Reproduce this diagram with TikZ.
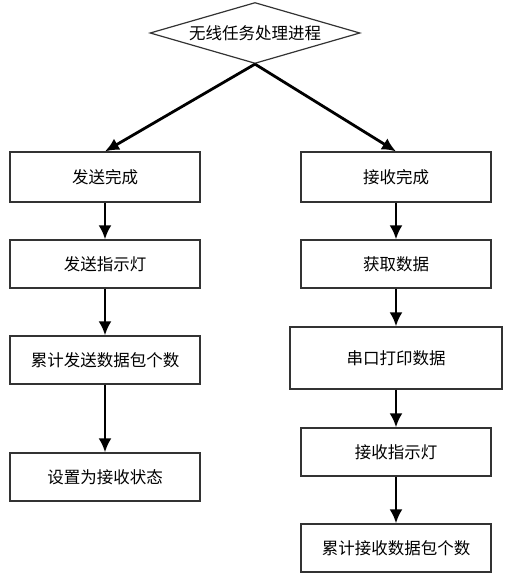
\documentclass[tikz,border=0pt]{standalone}
\usepackage{fontspec}
\newfontfamily\cjk{Noto Sans CJK SC}
\usetikzlibrary{shapes.geometric,arrows.meta}
\tikzset{
  box/.style={draw=black!80,line width=1.2pt,minimum width=190pt,minimum height=48pt,font=\cjk\fontsize{16.5}{19}\selectfont},
  flow/.style={-{Latex[length=14pt,width=13pt]},line width=2.8pt}
}
\begin{document}
\begin{tikzpicture}[x=1pt,y=-1pt]
    \useasboundingbox (0,0) rectangle (508,575);
    %start
    \node[draw=black!80,line width=1.2pt,diamond,inner sep=0pt,aspect=3.4,minimum width=210pt,minimum height=61pt,font=\cjk\fontsize{16.5}{19}\selectfont] (task) at (255,33) {无线任务处理进程};

    %left column
    \node[box,minimum height=50pt] (send1) at (105,177) {发送完成};
    \node[box] (send2) at (105,264) {发送指示灯};
    \node[box] (send3) at (105,360) {累计发送数据包个数};
    \node[box] (send4) at (105,477) {设置为接收状态};

    %right column
    \node[box,minimum height=50pt] (recv1) at (396,177) {接收完成};
    \node[box] (recv2) at (396,264) {获取数据};
    \node[box,minimum width=212pt,minimum height=62pt] (recv3) at (396,358) {串口打印数据};
    \node[box] (recv4) at (396,452) {接收指示灯};
    \node[box] (recv5) at (396,548) {累计接收数据包个数};

    %arrows
    \draw[flow] (task.south)--(send1.north);
    \draw[flow] (task.south)--(recv1.north);
    \draw[flow] (send1)--(send2);
    \draw[flow] (send2)--(send3);
    \draw[flow] (send3)--(send4);
    \draw[flow] (recv1)--(recv2);
    \draw[flow] (recv2)--(recv3);
    \draw[flow] (recv3)--(recv4);
    \draw[flow] (recv4)--(recv5);
\end{tikzpicture}
\end{document}
